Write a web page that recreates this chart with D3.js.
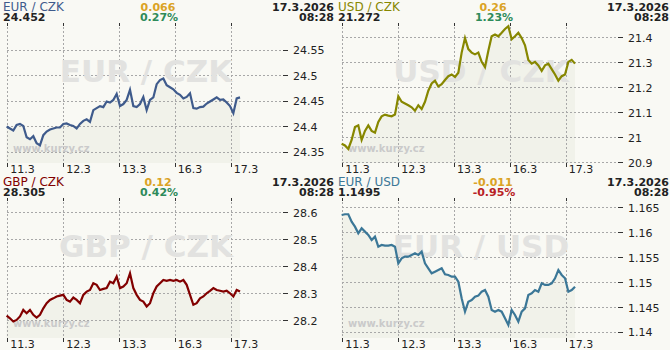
<!DOCTYPE html>
<html lang="cs">
<head>
<meta charset="UTF-8">
<title>Kurzy - 4 grafy</title>
<script src="https://d3js.org/d3.v7.min.js"></script>
<style>
  body { margin: 0; background: #f9f9f4; }
  svg { display: block; }
  text { font-family: "DejaVu Sans", Verdana, sans-serif; }
</style>
</head>
<body>
<svg id="chart" width="670" height="350"></svg>
<script>
// data
var dayLabels = ["11.3", "12.3", "13.3", "16.3", "17.3"];
var dateText = "17.3.2026";
var timeText = "08:28";

var eurCzk = [24.400,24.396,24.392,24.403,24.405,24.401,24.379,24.375,24.381,24.367,
  24.363,24.383,24.390,24.394,24.396,24.398,24.398,24.405,24.406,24.403,
  24.401,24.396,24.405,24.411,24.414,24.409,24.432,24.436,24.440,24.438,
  24.449,24.447,24.452,24.464,24.440,24.444,24.452,24.472,24.440,24.438,
  24.444,24.458,24.432,24.452,24.457,24.483,24.491,24.494,24.481,24.477,
  24.473,24.466,24.462,24.455,24.458,24.465,24.436,24.435,24.438,24.439,
  24.445,24.449,24.453,24.457,24.452,24.453,24.447,24.440,24.426,24.455,24.457];
var usdCzk = [20.975,20.968,20.954,20.990,21.041,21.048,20.990,21.026,21.048,21.026,
  21.019,21.062,21.084,21.091,21.087,21.084,21.091,21.164,21.142,21.135,
  21.128,21.120,21.106,21.128,21.113,21.142,21.186,21.215,21.226,21.203,
  21.212,21.229,21.244,21.251,21.241,21.258,21.338,21.396,21.352,21.338,
  21.331,21.338,21.301,21.280,21.345,21.403,21.410,21.403,21.417,21.432,
  21.443,21.391,21.403,21.417,21.396,21.367,21.309,21.294,21.301,21.287,
  21.265,21.287,21.294,21.272,21.251,21.226,21.244,21.251,21.301,21.309,21.294];
var gbpCzk = [28.217,28.207,28.195,28.201,28.214,28.238,28.226,28.238,28.220,28.210,
  28.220,28.244,28.263,28.275,28.281,28.288,28.291,28.294,28.275,28.269,
  28.284,28.275,28.263,28.294,28.306,28.312,28.337,28.331,28.312,28.316,
  28.319,28.343,28.337,28.362,28.319,28.325,28.337,28.374,28.319,28.294,
  28.275,28.269,28.251,28.263,28.300,28.325,28.337,28.349,28.346,28.349,
  28.346,28.349,28.343,28.349,28.331,28.294,28.257,28.263,28.281,28.288,
  28.300,28.309,28.319,28.312,28.309,28.306,28.309,28.300,28.288,28.312,28.306];
var eurUsd = [1.16346,1.16360,1.16360,1.16213,1.16112,1.15979,1.16079,1.16012,1.15945,1.15845,
  1.15912,1.15711,1.15745,1.15731,1.15731,1.15745,1.15711,1.15377,1.15477,1.15511,
  1.15511,1.15544,1.15578,1.15544,1.15611,1.15377,1.15277,1.15177,1.15210,1.15243,
  1.15277,1.15157,1.15143,1.15110,1.15110,1.15009,1.14675,1.14408,1.14608,1.14642,
  1.14709,1.14729,1.14809,1.14842,1.14709,1.14441,1.14408,1.14441,1.14408,1.14274,
  1.14141,1.14441,1.14341,1.14207,1.14408,1.14475,1.14742,1.14776,1.14842,1.14809,
  1.14976,1.14943,1.14943,1.14976,1.15076,1.15243,1.15143,1.15076,1.14809,1.14842,1.14909];

var eurCzkTicks = [24.35, 24.4, 24.45, 24.5, 24.55];
var usdCzkTicks = [20.9, 21, 21.1, 21.2, 21.3, 21.4];
var gbpCzkTicks = [28.2, 28.3, 28.4, 28.5, 28.6];
var eurUsdTicks = [1.14, 1.145, 1.15, 1.155, 1.16, 1.165];

var panels = [
  {name: "EUR / CZK", last: "24.452", chg: "0.066", pct: "0.27%", up: true,
   color: "#3f5b8c", values: eurCzk, ticks: eurCzkTicks, domain: [24.3284, 24.6029]},
  {name: "USD / CZK", last: "21.272", chg: "0.26", pct: "1.23%", up: true,
   color: "#878700", values: usdCzk, ticks: usdCzkTicks, domain: [20.898, 21.456]},
  {name: "GBP / CZK", last: "28.305", chg: "0.12", pct: "0.42%", up: true,
   color: "#820000", values: gbpCzk, ticks: gbpCzkTicks, domain: [28.134, 28.653]},
  {name: "EUR / USD", last: "1.1495", chg: "-0.011", pct: "-0.95%", up: false,
   color: "#3b7797", values: eurUsd, ticks: eurUsdTicks, domain: [1.1388, 1.16686]}
];

var svg = d3.select("#chart");
var pw = 335, ph = 175;
var plotTop = 23, plotBottom = 163;

var x = d3.scaleLinear().domain([0, 4]).range([7.3, 230.7]);

panels.forEach(function(p, i) {
  var g = svg.append("g")
    .attr("transform", "translate(" + (i % 2) * pw + "," + Math.floor(i / 2) * ph + ")");

  var y = d3.scaleLinear().domain(p.domain).range([plotBottom, plotTop]);
  // time of each sample, spread evenly over the shown period
  var t = d3.scaleLinear().domain([0, p.values.length - 1]).range([-0.012, 4.167]);

  // area under the line
  var area = d3.area()
    .x(function(d, j) { return x(t(j)); })
    .y0(plotBottom)
    .y1(function(d) { return y(d); });
  g.append("path").datum(p.values)
    .attr("d", area)
    .attr("fill", "#f1f2ea");

  // horizontal grid + y axis on the right
  var yAxis = g.append("g").attr("transform", "translate(287,0)")
    .call(d3.axisRight(y).tickValues(p.ticks).tickSize(0)
      .tickFormat(function(d) { return String(+d.toFixed(4)); }));
  yAxis.select(".domain").remove();
  yAxis.selectAll("text").attr("x", 6).attr("dy", "0.36em")
    .attr("font-size", "11px").attr("font-family", "DejaVu Sans").attr("fill", "#222");

  g.selectAll(".hgrid").data(p.ticks).enter().append("line")
    .attr("x1", 7).attr("x2", 282)
    .attr("y1", function(d) { return Math.round(y(d)) + 0.5; })
    .attr("y2", function(d) { return Math.round(y(d)) + 0.5; })
    .attr("stroke", "#a8a8a8").attr("stroke-dasharray", "2,2");
  g.selectAll(".htick").data(p.ticks).enter().append("line")
    .attr("x1", 283).attr("x2", 288)
    .attr("y1", function(d) { return Math.round(y(d)) + 0.5; })
    .attr("y2", function(d) { return Math.round(y(d)) + 0.5; })
    .attr("stroke", "#333");

  // vertical grid on day boundaries
  var days = d3.range(dayLabels.length);
  g.selectAll(".vgrid").data(days).enter().append("line")
    .attr("x1", function(d) { return Math.round(x(d)) + 0.5; })
    .attr("x2", function(d) { return Math.round(x(d)) + 0.5; })
    .attr("y1", plotTop).attr("y2", plotBottom)
    .attr("stroke", "#a8a8a8").attr("stroke-dasharray", "2,2");
  g.selectAll(".vtick-top").data(days).enter().append("line")
    .attr("x1", function(d) { return Math.round(x(d)) + 0.5; })
    .attr("x2", function(d) { return Math.round(x(d)) + 0.5; })
    .attr("y1", plotTop).attr("y2", plotTop + 3)
    .attr("stroke", "#333");
  g.selectAll(".vtick-bot").data(days).enter().append("line")
    .attr("x1", function(d) { return Math.round(x(d)) + 0.5; })
    .attr("x2", function(d) { return Math.round(x(d)) + 0.5; })
    .attr("y1", plotBottom).attr("y2", plotBottom + 4)
    .attr("stroke", "#333");
  g.selectAll(".daylab").data(dayLabels).enter().append("text")
    .attr("x", function(d, j) { return x(j) + 3; })
    .attr("y", 173)
    .attr("font-size", "11px").attr("fill", "#222")
    .text(function(d) { return d; });

  // watermarks
  g.append("text")
    .attr("x", 146).attr("y", 82)
    .attr("text-anchor", "middle")
    .attr("font-family", "Liberation Sans, Arial, sans-serif")
    .attr("font-weight", "bold").attr("font-size", "31px")
    .attr("fill", "#e2e2e0")
    .text(p.name);
  g.append("text")
    .attr("x", 13).attr("y", 152)
    .attr("font-weight", "bold").attr("font-size", "10px")
    .attr("fill", "#cacaca")
    .text("www.kurzy.cz");

  // the series line
  var line = d3.line()
    .x(function(d, j) { return x(t(j)); })
    .y(function(d) { return y(d); });
  g.append("path").datum(p.values)
    .attr("d", line)
    .attr("fill", "none")
    .attr("stroke", p.color)
    .attr("stroke-width", 2.2)
    .attr("stroke-linejoin", "miter");

  // header
  g.append("text").attr("x", 3).attr("y", 11)
    .attr("font-size", "12px").attr("fill", p.color).text(p.name);
  g.append("text").attr("x", 3).attr("y", 21)
    .attr("font-size", "11px").attr("font-weight", "bold")
    .attr("font-family", "DejaVu Sans Condensed, DejaVu Sans")
    .attr("fill", "#222").text(p.last);
  g.append("text").attr("x", 158).attr("y", 11).attr("text-anchor", "middle")
    .attr("font-size", "11px").attr("font-weight", "bold")
    .attr("font-family", "DejaVu Sans Condensed, DejaVu Sans")
    .attr("fill", "#dba325").text(p.chg);
  g.append("text").attr("x", 159).attr("y", 21).attr("text-anchor", "middle")
    .attr("font-size", "11px").attr("font-weight", "bold")
    .attr("font-family", "DejaVu Sans Condensed, DejaVu Sans")
    .attr("fill", p.up ? "#2e8b5a" : "#b82226").text(p.pct);
  g.append("text").attr("x", 334).attr("y", 11).attr("text-anchor", "end")
    .attr("font-size", "11px").attr("font-weight", "bold")
    .attr("font-family", "DejaVu Sans Condensed, DejaVu Sans")
    .attr("fill", "#222").text(dateText);
  g.append("text").attr("x", 334).attr("y", 21).attr("text-anchor", "end")
    .attr("font-size", "11px").attr("font-weight", "bold")
    .attr("font-family", "DejaVu Sans Condensed, DejaVu Sans")
    .attr("fill", "#222").text(timeText);
});
</script>
</body>
</html>
